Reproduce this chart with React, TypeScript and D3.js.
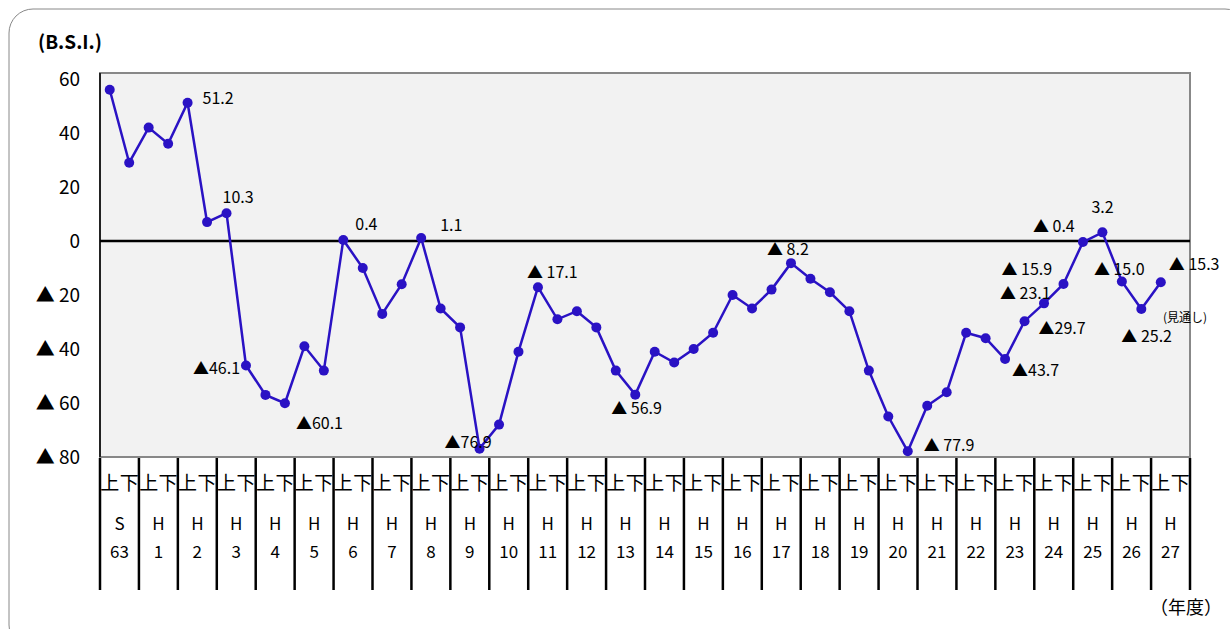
import { useEffect, useRef } from 'react';
import * as d3 from 'd3';

const years = ['S|63', 'H|1', 'H|2', 'H|3', 'H|4', 'H|5', 'H|6', 'H|7', 'H|8', 'H|9', 'H|10', 'H|11', 'H|12', 'H|13',
  'H|14', 'H|15', 'H|16', 'H|17', 'H|18', 'H|19', 'H|20', 'H|21', 'H|22', 'H|23', 'H|24', 'H|25', 'H|26', 'H|27'];

// half-year BSI values (上, 下 per year)
const bsi = [56, 29, 42, 36, 51.2, 7, 10.3, -46.1, -57, -60.1, -39, -48, 0.4, -10, -27, -16, 1.1, -25, -32, -76.9,
  -68, -41, -17.1, -29, -26, -32, -48, -56.9, -41, -45, -40, -34, -20, -25, -18, -8.2, -14, -19, -26, -48,
  -65, -77.9, -61, -56, -34, -36, -43.7, -29.7, -23.1, -15.9, -0.4, 3.2, -15.0, -25.2, -15.3];

const yTicks = [60, 40, 20, 0, -20, -40, -60, -80];

// label text, point index, offset in px
const labels: [string, number, number, number][] = [
  ['51.2', 4, 15, -5], ['10.3', 6, -4, -16], ['▲46.1', 7, -53, 3], ['▲60.1', 9, 11, 20],
  ['0.4', 12, 12, -16], ['1.1', 16, 19, -13], ['▲76.9', 19, -35, -7], ['▲ 17.1', 22, -11, -15],
  ['▲ 56.9', 27, -24, 13], ['▲ 8.2', 35, -24, -14], ['▲ 77.9', 41, 16, -6], ['▲43.7', 46, 7, 11],
  ['▲29.7', 47, 14, 7], ['▲ 23.1', 48, -44, -10], ['▲ 15.9', 49, -62, -15], ['▲ 0.4', 50, -50, -16],
  ['3.2', 51, -11, -25], ['▲ 15.0', 52, -28, -13], ['▲ 25.2', 53, -20, 27], ['▲ 15.3', 54, 8, -18],
];

export default function App() {
  const ref = useRef<SVGSVGElement>(null);

  useEffect(() => {
    const svg = d3.select(ref.current);
    svg.selectAll('*').remove();
    const L = 100, R = 1190, T = 73, B = 457;
    const font = '"Noto Sans CJK JP", sans-serif';

    svg.append('rect').attr('x', 9).attr('y', 9).attr('width', 1240).attr('height', 640).attr('rx', 24)
      .attr('fill', '#fff').attr('stroke', '#888').attr('stroke-width', 1);

    const x = d3.scaleBand<number>().domain(d3.range(years.length * 2)).range([L, R]);
    const y = d3.scaleLinear().domain([-80, 60]).range([B, 79]);

    svg.append('rect').attr('x', L).attr('y', T).attr('width', R - L).attr('height', B - T)
      .attr('fill', '#f2f2f2').attr('stroke', '#888').attr('stroke-width', 2);
    svg.append('line').attr('x1', L).attr('x2', R).attr('y1', y(0)).attr('y2', y(0))
      .attr('stroke', '#000').attr('stroke-width', 2.5);
    svg.append('line').attr('x1', L).attr('x2', L).attr('y1', T).attr('y2', B)
      .attr('stroke', '#000').attr('stroke-width', 1.5);

    const g = svg.append('g').style('font-family', font);
    yTicks.forEach((t) => {
      g.append('text').attr('x', 80).attr('y', y(t) + 7).attr('text-anchor', 'end')
        .style('font-size', '19px').text(t < 0 ? `▲ ${-t}` : `${t}`);
    });
    g.append('text').attr('x', 38).attr('y', 49).style('font-size', '19px').style('font-weight', 'bold').text('(B.S.I.)');
    g.append('text').attr('x', 1150).attr('y', 614).style('font-size', '18px').text('（年度）');

    // table
    years.forEach((yr, i) => {
      const x0 = x(i * 2)!;
      g.append('line').attr('x1', x0).attr('x2', x0).attr('y1', 458).attr('y2', 590)
        .attr('stroke', '#000').attr('stroke-width', 2.5);
      ['上', '下'].forEach((h, j) => {
        g.append('text').attr('x', x(i * 2 + j)! + x.bandwidth() / 2).attr('y', 490)
          .attr('text-anchor', 'middle').style('font-size', '19px').text(h);
      });
      const [a, b] = yr.split('|');
      const cx = x0 + x.bandwidth();
      g.append('text').attr('x', cx).attr('y', 530).attr('text-anchor', 'middle').style('font-size', '17px').text(a);
      g.append('text').attr('x', cx).attr('y', 558).attr('text-anchor', 'middle').style('font-size', '17px').text(b);
    });
    g.append('line').attr('x1', R).attr('x2', R).attr('y1', 458).attr('y2', 590)
      .attr('stroke', '#000').attr('stroke-width', 2.5);

    const px = (i: number) => x(i)! + x.bandwidth() / 2;
    const line = d3.line<number>().x((_, i) => px(i)).y((d) => y(d));
    svg.append('path').datum(bsi).attr('d', line).attr('fill', 'none').attr('stroke', '#2a12c4').attr('stroke-width', 2.5);
    svg.selectAll('circle.p').data(bsi).join('circle').attr('class', 'p')
      .attr('cx', (_, i) => px(i)).attr('cy', (d) => y(d)).attr('r', 5).attr('fill', '#2a12c4');

    const lg = svg.append('g').style('font-family', font);
    labels.forEach(([t, i, dx, dy]) => {
      lg.append('text').attr('x', px(i) + dx).attr('y', y(bsi[i]) + dy + 6)
        .style('font-size', '16px').text(t);
    });
    lg.append('text').attr('x', 1163).attr('y', 322).style('font-size', '12px').text('(見通し)');
  }, []);

  return <svg ref={ref} width={1230} height={629} style={{ position: 'absolute', left: 0, top: 0 }} />;
}
